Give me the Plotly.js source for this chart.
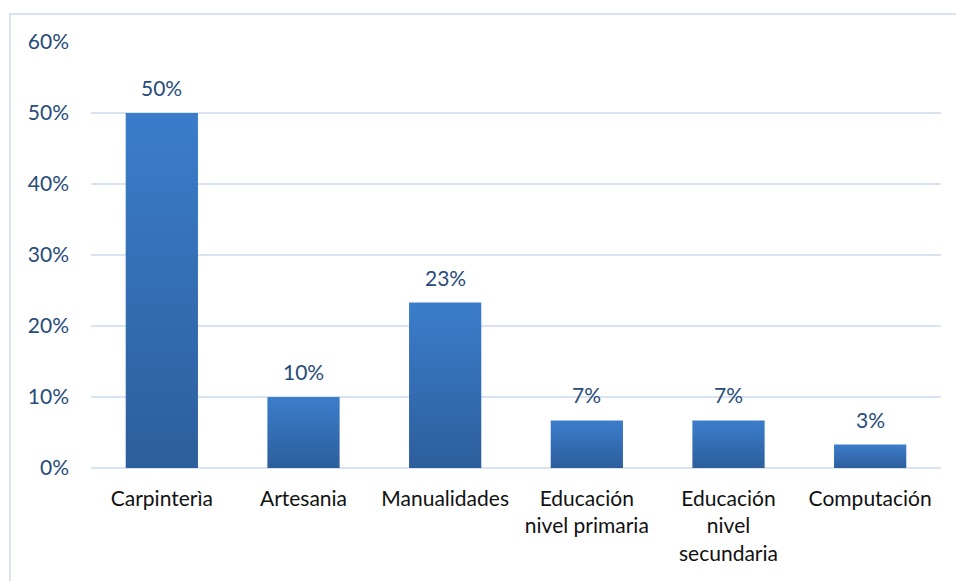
<!DOCTYPE html>
<html><head><meta charset="utf-8">
<script src="https://cdn.plot.ly/plotly-3.0.1.min.js"></script>
<style>html,body{margin:0;padding:0;background:#fff;}#chart{width:956px;height:581px;}</style>
</head><body><div id="chart"></div>
<script>
const categories = ["Carpinterìa", "Artesania", "Manualidades", "Educación<br>nivel primaria", "Educación<br>nivel<br>secundaria", "Computación"];
const values = [0.50, 0.10, 0.233, 0.067, 0.067, 0.033];
const labels = ["50%", "10%", "23%", "7%", "7%", "3%"];
const yTicks = [0, 0.1, 0.2, 0.3, 0.4, 0.5, 0.6];
const yTickText = ["0%", "10%", "20%", "30%", "40%", "50%", "60%"];

const trace = {
  type: 'bar', x: categories, y: values,
  marker: {color: '#3570b8', line: {width: 0}},
  hoverinfo: 'none'
};
const annotations = categories.map((c, i) => ({
  x: c, y: values[i], xref: 'x', yref: 'y', text: labels[i], showarrow: false,
  yanchor: 'bottom', yshift: 11, font: {family: 'Lato, sans-serif', size: 21, color: '#274b7a'}
}));
const layout = {
  width: 956, height: 581,
  margin: {l: 91, r: 15, t: 42, b: 113},
  paper_bgcolor: '#fff', plot_bgcolor: '#fff',
  bargap: 0.49,
  showlegend: false,
  font: {family: 'Lato, sans-serif'},
  xaxis: {
    showgrid: false, zeroline: false, showline: false, ticks: '',
    tickfont: {family: 'Lato, sans-serif', size: 21, color: '#111'},
    ticklabelstandoff: 16, fixedrange: true
  },
  yaxis: {
    range: [0, 0.6], tickvals: yTicks, ticktext: yTickText,
    showgrid: true, gridcolor: '#d9e3f2', gridwidth: 2,
    zeroline: true, zerolinecolor: '#d9e3f2', zerolinewidth: 2,
    showline: false, ticks: '',
    tickfont: {family: 'Lato, sans-serif', size: 21, color: '#274b7a'},
    ticklabelstandoff: 21, fixedrange: true
  },
  annotations: annotations,
  shapes: [{
    type: 'rect', xref: 'paper', yref: 'paper', layer: 'below',
    x0: (10 - 91) / 850, x1: (960 - 91) / 850, y0: (468 - 600) / 426, y1: (468 - 14) / 426,
    line: {color: '#dae3f0', width: 2}, fillcolor: 'rgba(0,0,0,0)'
  }]
};
Plotly.newPlot('chart', [trace], layout, {displayModeBar: false, staticPlot: true}).then(gd => {
  const svg = gd.querySelector('svg.main-svg');
  const ns = 'http://www.w3.org/2000/svg';
  const defs = svg.querySelector('defs') || svg.insertBefore(document.createElementNS(ns, 'defs'), svg.firstChild);
  const grad = document.createElementNS(ns, 'linearGradient');
  grad.setAttribute('id', 'barGrad');
  grad.setAttribute('x1', '0'); grad.setAttribute('y1', '0');
  grad.setAttribute('x2', '0'); grad.setAttribute('y2', '1');
  [['0', '#3b7dcb'], ['1', '#2d5e9c']].forEach(([o, c]) => {
    const s = document.createElementNS(ns, 'stop');
    s.setAttribute('offset', o); s.setAttribute('stop-color', c);
    grad.appendChild(s);
  });
  defs.appendChild(grad);
  gd.querySelectorAll('.bars .point path').forEach(p => { p.style.fill = 'url(#barGrad)'; });
});
</script></body></html>
